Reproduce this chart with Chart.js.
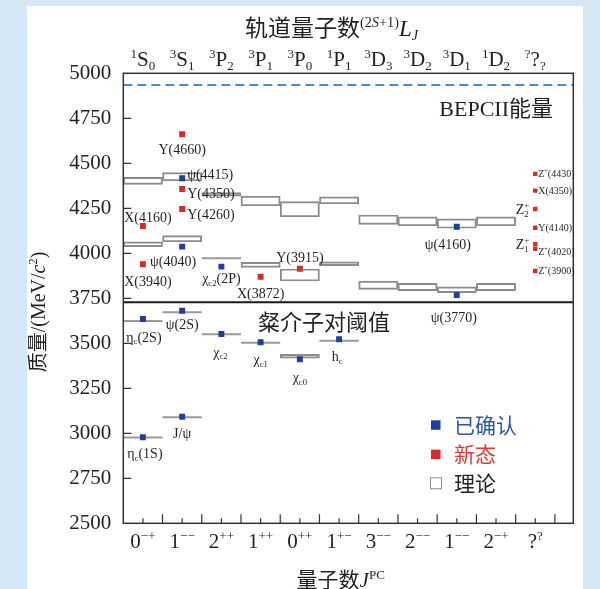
<!DOCTYPE html>
<html><head><meta charset="utf-8">
<script src="https://cdn.jsdelivr.net/npm/chart.js@4.4.1/dist/chart.umd.min.js"></script>
<style>
html,body{margin:0;padding:0;background:#d5e6f4;}
canvas{display:block;}
</style></head><body>
<canvas id="c" width="600" height="589"></canvas>
<script>
// ---------------- data ----------------
const jpcBase = ['0','1','2','1','0','1','3','2','1','2','?'];
const jpcSup  = ['\u2212+','\u2212\u2212','++','++','++','+\u2212','\u2212\u2212','\u2212\u2212','\u2212\u2212','\u2212+','?'];
const termPre = ['1','3','3','3','3','1','3','3','3','1','?'];
const termL   = ['S','S','P','P','P','P','D','D','D','D','?'];
const termJ   = ['0','1','2','1','0','1','3','2','1','2','?'];
const massTicks = [2500,2750,3000,3250,3500,3750,4000,4250,4500,4750,5000];

// theoretical predictions (boxes: category, low mass, high mass)
const boxCat  = [0,1,2,3,4,5,6,7,8,9, 0,1,3,4,5,6,7,8,9, 4];
const boxLow  = [4383,4402,4318,4264,4203,4274,4161,4153,4139,4153, 4037,4064,3922,3846,3931,3800,3792,3781,3792, 3417];
const boxHigh = [4422,4448,4337,4318,4287,4314,4213,4203,4191,4203, 4064,4098,3950,3913,3953,3846,3833,3814,3833, 3439];
// theoretical predictions drawn as single levels
const lineCat  = [0,1,2,3,5,1,0,2];
const lineMass = [3624,3672,3550,3503,3514,3089,2977,3972];

// confirmed states
const confName = ['\u03b7_{c}(1S)','J/\u03c8','\u03b7_{c}(2S)','\u03c8(2S)','\u03c7_{c2}','\u03c7_{c1}','\u03c7_{c0}','h_{c}','\u03c8(3770)','\u03c8(4040)','\u03c8(4160)','\u03c8(4415)','\u03c7_{c2}(2P)'];
const confCat  = [0,1,0,1,2,3,4,5,8,1,8,1,2];
const confMass = [2978,3092,3635,3681,3552,3506,3411,3522,3768,4037,4148,4417,3926];

// new states
const newName = ['X(3940)','X(4160)','Y(4660)','Y(4350)','Y(4260)','X(3872)','Y(3915)'];
const newCat  = [0,0,1,1,1,3,4];
const newMass = [3939,4152,4661,4357,4246,3870,3914];

// exotic (unknown quantum numbers) column
const exoName = ['Z^{+}(4430)','X(4350)','Z_{2}^{+}','Y(4140)','Z_{1}^{+}','Z^{+}(4020)','Z^{+}(3900)'];
const exoCat  = [10,10,10,10,10,10,10];
const exoMass = [4441,4348,4246,4142,4051,4025,3902];

const thresholdMass = 3728;
const bepcMaxMass = 4935;

// ---------------- layout / style ----------------
const SERIF = "'Liberation Serif','Times New Roman','Noto Sans CJK SC',serif";
const BLUE = '#1f3f9e', RED = '#d92a2a';
const xMin = -0.5, xMax = 10.97;

// label offsets relative to their point (px): [dx, dy(center), align, size]
const labelLayout = {
  '\u03b7_{c}(1S)':[2,16,'center',14], 'J/\u03c8':[0,17,'center',14], '\u03b7_{c}(2S)':[1,18,'center',14],
  '\u03c8(2S)':[0,14,'center',14], '\u03c7_{c2}':[-1,18,'center',14], '\u03c7_{c1}':[0,17,'center',14],
  '\u03c7_{c0}':[0,18,'center',14], 'h_{c}':[-2,17,'center',14], '\u03c8(3770)':[-3,22,'center',14],
  '\u03c8(4040)':[-9,15,'center',14], '\u03c8(4160)':[-9,17.6,'center',14], '\u03c8(4415)':[5,-4,'left',14],
  '\u03c7_{c2}(2P)':[0,12,'center',14],
  'X(3940)':[5,17,'center',14], 'X(4160)':[5,-9,'center',14], 'Y(4660)':[0,15,'center',14],
  'Y(4350)':[5,4,'left',14], 'Y(4260)':[5,5,'left',14], 'X(3872)':[0,17,'center',14], 'Y(3915)':[0,-11,'center',14],
  'Z^{+}(4430)':[3,0,'left',10], 'X(4350)':[3,0,'left',10], 'Z_{2}^{+}':[-6,0,'right',14],
  'Y(4140)':[3,0,'left',10], 'Z_{1}^{+}':[-6,0,'right',14], 'Z^{+}(4020)':[3,3,'left',10], 'Z^{+}(3900)':[3,0,'left',10]
};

// ---------------- rich text ----------------
function parseRich(m){
  const toks=[]; let it=false, kind='n', buf='';
  const flush=()=>{ if(buf){ toks.push({t:buf,k:kind,it:it}); buf=''; } };
  for(let i=0;i<m.length;i++){
    const ch=m[i];
    if((ch==='_'||ch==='^') && m[i+1]==='{'){ flush(); kind = ch==='_'?'sub':'sup'; i++; }
    else if(ch==='}'){ flush(); kind='n'; }
    else if(ch==='|'){ flush(); it=!it; }
    else buf+=ch;
  }
  flush();
  const out=[];
  for(let i=0;i<toks.length;i++){
    const a=toks[i], b=toks[i+1];
    if(a.k==='sub' && b && b.k==='sup'){ out.push({k:'ss',a:a.t,b:b.t,it:a.it}); i++; }
    else out.push(a);
  }
  return out;
}
function drawRich(ctx, markup, x, y, o){
  const s=o.size, ss=s*0.62, fam=o.family||SERIF;
  const fnt=(sz,it)=>(it?'italic ':'')+sz+'px '+fam;
  const toks=parseRich(markup);
  let w=0;
  toks.forEach(t=>{
    if(t.k==='n'){ ctx.font=fnt(s,t.it); t.w=ctx.measureText(t.t).width; }
    else if(t.k==='ss'){ ctx.font=fnt(ss,t.it); t.w=Math.max(ctx.measureText(t.a).width,ctx.measureText(t.b).width); }
    else { ctx.font=fnt(ss,t.it); t.w=ctx.measureText(t.t).width; }
    w+=t.w;
  });
  let cx = o.align==='center'? x-w/2 : (o.align==='right'? x-w : x);
  ctx.fillStyle=o.color||'#231f20'; ctx.textAlign='left'; ctx.textBaseline='alphabetic';
  toks.forEach(t=>{
    if(t.k==='n'){ ctx.font=fnt(s,t.it); ctx.fillText(t.t,cx,y); }
    else if(t.k==='sup'){ ctx.font=fnt(ss,t.it); ctx.fillText(t.t,cx,y-s*0.38); }
    else if(t.k==='sub'){ ctx.font=fnt(ss,t.it); ctx.fillText(t.t,cx,y+s*0.2); }
    else { ctx.font=fnt(ss,t.it); ctx.fillText(t.a,cx,y+s*0.24); ctx.fillText(t.b,cx,y-s*0.42); }
    cx+=t.w;
  });
}

// ---------------- plugin ----------------
const decor = {
  id:'decor',
  beforeDraw(chart){
    const c=chart.ctx; c.save();
    c.fillStyle='#d5e6f4'; c.fillRect(0,0,chart.width,chart.height);
    c.fillStyle='#ffffff'; c.fillRect(27,6,556,chart.height-6);
    c.restore();
  },
  afterDraw(chart){
    const c=chart.ctx, a=chart.chartArea, X=chart.scales.x, Y=chart.scales.y;
    c.save();
    // frame
    c.strokeStyle='#333'; c.lineWidth=1.5;
    c.strokeRect(a.left,a.top,a.right-a.left,a.bottom-a.top);
    // inward ticks
    c.lineWidth=1.2; c.beginPath();
    massTicks.slice(1,-1).forEach(v=>{ const py=Y.getPixelForValue(v); c.moveTo(a.left,py); c.lineTo(a.left+8,py); });
    jpcBase.forEach((_,i)=>{
      const pc=X.getPixelForValue(i), pb=X.getPixelForValue(i+0.5);
      c.moveTo(pc,a.bottom); c.lineTo(pc,a.bottom-5);
      c.moveTo(pb,a.bottom); c.lineTo(pb,a.bottom-9);
    });
    c.stroke();
    // category labels
    jpcBase.forEach((b,i)=>{
      const px=X.getPixelForValue(i);
      drawRich(c, b+'^{'+jpcSup[i]+'}', px, 548.3, {size:21,align:'center'});
      drawRich(c, '^{'+termPre[i]+'}'+termL[i]+'_{'+termJ[i]+'}', px, 66.2, {size:21,align:'center'});
    });
    // titles
    drawRich(c, '轨道量子数^{(2|S|+1)}|L|_{|J|}', 245, 35.7, {size:23,align:'left'});
    drawRich(c, '量子数|J|^{PC}', 296.6, 587.3, {size:21,align:'left'});
    c.save(); c.translate(37,312); c.rotate(-Math.PI/2);
    drawRich(c, '质量/(MeV/|c|^{2})', 0, 7.5, {size:20,align:'center'});
    c.restore();
    drawRich(c, 'BEPCII能量', 553, 115.7, {size:22,align:'right'});
    drawRich(c, '粲介子对阈值', 258, 330, {size:22,align:'left'});
    // state labels
    const lab=(names,cats,masses)=>names.forEach((n,i)=>{
      const L=labelLayout[n]; const px=X.getPixelForValue(cats[i])+L[0], py=Y.getPixelForValue(masses[i])+L[1];
      drawRich(c, n, px, py+0.33*L[3], {size:L[3],align:L[2]});
    });
    lab(confName,confCat,confMass); lab(newName,newCat,newMass); lab(exoName,exoCat,exoMass);
    // legend
    const leg=[['已确认',BLUE,'#2c54b0',425],['新态',RED,'#e33a2f',454.3],['理论',null,'#231f20',483.3]];
    leg.forEach(l=>{
      if(l[1]){ c.fillStyle=l[1]; c.fillRect(431,l[3]-4.7,9.5,9.5); }
      else { c.fillStyle='#fff'; c.fillRect(430,l[3]-6,12,12); c.strokeStyle='#8c8c8c'; c.lineWidth=1; c.strokeRect(430.5,l[3]-5.5,11,11); }
      drawRich(c, l[0], 454, l[3]+8, {size:21,align:'left',color:l[2]});
    });
    c.restore();
  }
};

// ---------------- chart ----------------
const linePts=[];
lineCat.forEach((k,i)=>{ linePts.push({x:k-0.5,y:lineMass[i]},{x:k+0.5,y:lineMass[i]},{x:k,y:null}); });

new Chart(document.getElementById('c'), {
  type:'scatter',
  data:{ datasets:[
    {type:'scatter', label:'已确认', data:confCat.map((k,i)=>({x:k,y:confMass[i]})), pointStyle:'rect', pointRadius:4.2, backgroundColor:BLUE, borderWidth:0, order:0},
    {type:'scatter', label:'新态', data:newCat.map((k,i)=>({x:k,y:newMass[i]})), pointStyle:'rect', pointRadius:4.2, backgroundColor:RED, borderWidth:0, order:0},
    {type:'scatter', label:'新态(?)', data:exoCat.map((k,i)=>({x:k,y:exoMass[i]})), pointStyle:'rect', pointRadius:3.1, backgroundColor:RED, borderWidth:0, order:0},
    {type:'line', label:'理论能级', data:linePts, borderColor:'#9a9a9a', borderWidth:2, pointRadius:0, spanGaps:false, fill:false, order:1},
    {type:'line', label:'粲介子对阈值', data:[{x:xMin,y:thresholdMass},{x:xMax,y:thresholdMass}], borderColor:'#1a1a1a', borderWidth:2, pointRadius:0, fill:false, order:1},
    {type:'line', label:'BEPCII能量', data:[{x:xMin,y:bepcMaxMass},{x:xMax,y:bepcMaxMass}], borderColor:'#3f8fdc', borderWidth:2, borderDash:[9,5], pointRadius:0, fill:false, order:1},
    {type:'bar', label:'理论', data:boxCat.map((k,i)=>({x:k,y:[boxLow[i],boxHigh[i]]})), backgroundColor:'rgba(255,255,255,0)', borderColor:'#8c8c8c', borderWidth:1.3, borderSkipped:false, grouped:false, barPercentage:1, categoryPercentage:1, order:2}
  ]},
  options:{
    responsive:false, animation:false, devicePixelRatio:1,
    layout:{padding:{left:0,right:26.7,top:73.3,bottom:0}},
    plugins:{legend:{display:false}, tooltip:{enabled:false}},
    scales:{
      x:{type:'linear', min:xMin, max:xMax, offset:false, grid:{display:false, offset:false}, border:{display:false}, ticks:{display:false},
         afterBuildTicks:ax=>{ ax.ticks=jpcBase.map((_,i)=>({value:i})); }, afterFit:ax=>{ ax.height=65.7; }},
      y:{type:'linear', min:2500, max:5000, offset:false, grid:{display:false,drawTicks:false}, border:{display:false},
         afterBuildTicks:ax=>{ ax.ticks=massTicks.map(v=>({value:v})); },
         ticks:{padding:12, color:'#231f20', font:{family:SERIF,size:21}, callback:v=>String(v)},
         afterFit:ax=>{ ax.width=123.3; }}
    }
  },
  plugins:[decor]
});
</script></body></html>
